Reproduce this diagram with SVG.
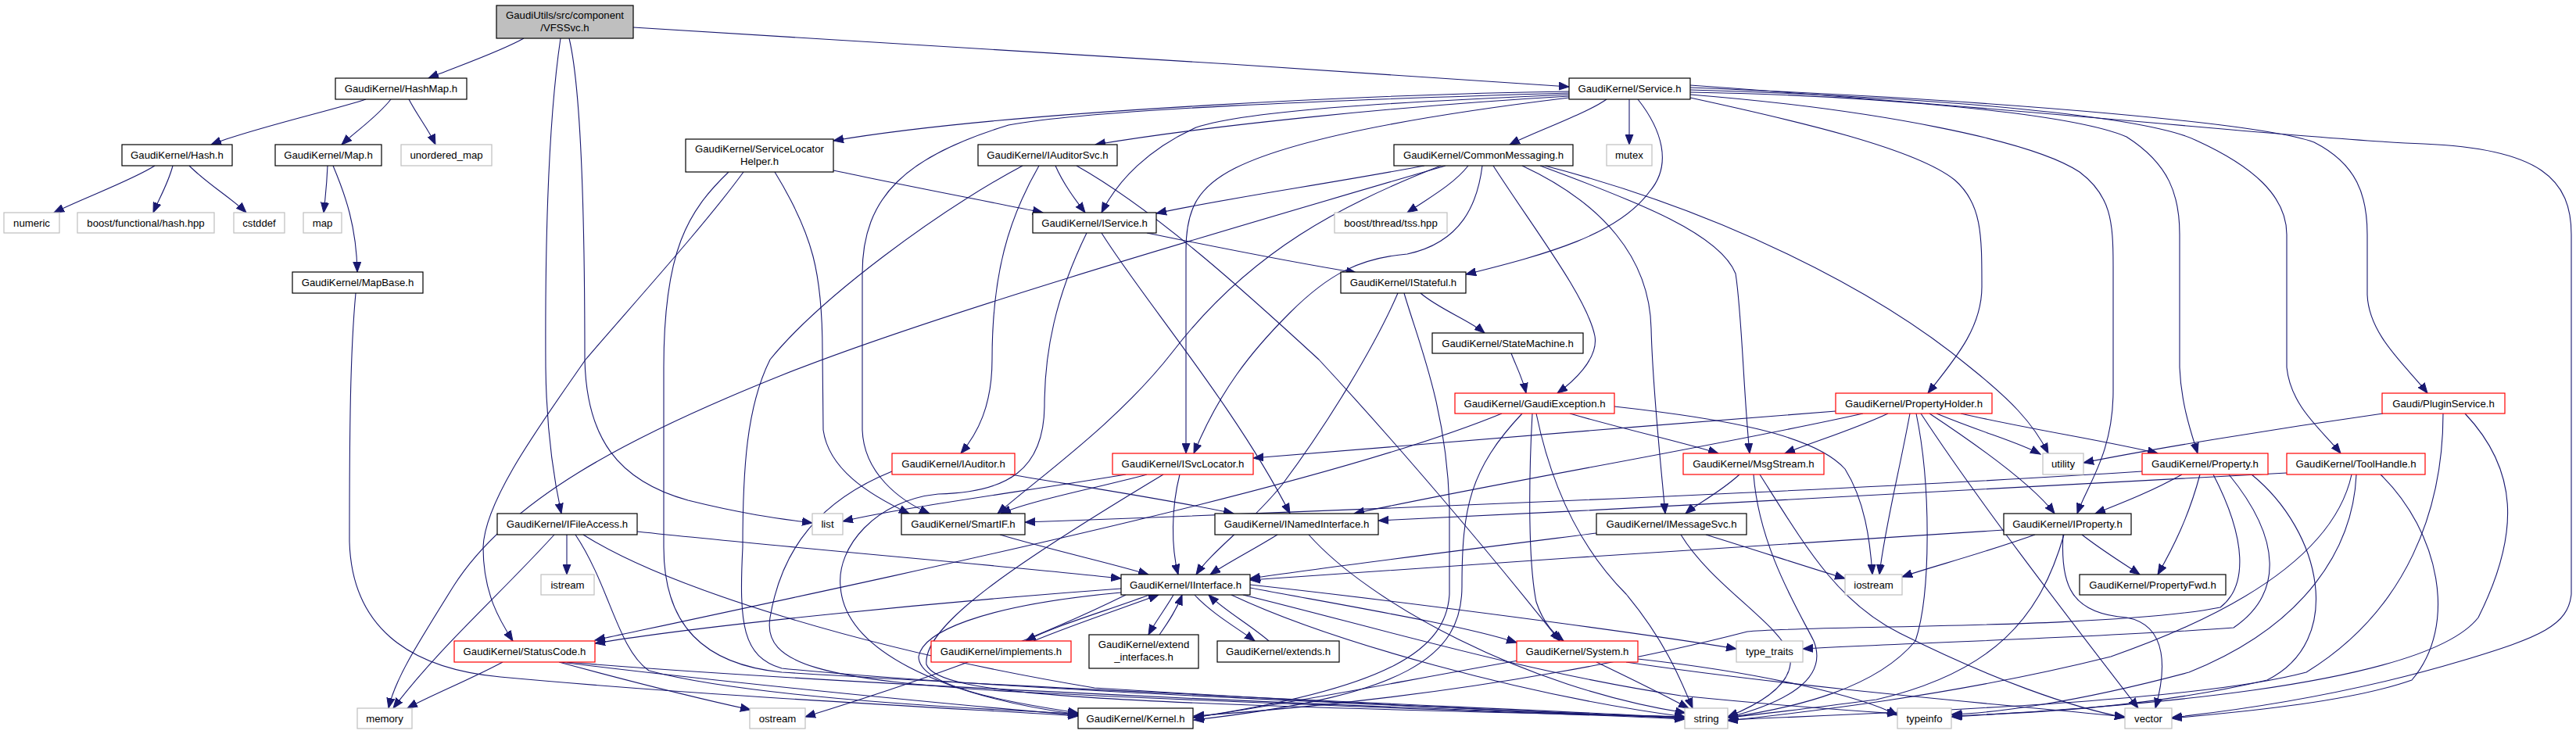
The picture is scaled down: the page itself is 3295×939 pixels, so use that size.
<svg xmlns="http://www.w3.org/2000/svg" width="3295" height="939" viewBox="0 0 3295 939">
<style>
.nd rect{fill:#fff;stroke:#000;stroke-width:1.2}
.rd rect{fill:#fff;stroke:#f00;stroke-width:1.2}
.gr rect{fill:#fff;stroke:#bfbfbf;stroke-width:1.2}
.rt rect{fill:#bfbfbf;stroke:#000;stroke-width:1.2}
text{font-family:"Liberation Sans",Arial,Helvetica,sans-serif;font-size:13.2px;text-anchor:middle;fill:#000}
#edges path{fill:none;stroke:#191970;stroke-width:1.1;marker-end:url(#a)}
</style>
<defs>
<marker id="a" markerUnits="userSpaceOnUse" markerWidth="14" markerHeight="11" refX="13" refY="5" orient="auto" viewBox="0 0 14 10">
<path d="M0,0 L13,5 L0,10 z" fill="#191970" stroke="#191970"/>
</marker>
</defs>
<rect width="3295" height="939" fill="#fff"/>
<g id="edges">
<path d="M670,49 C640,66 585,85 548,100"/>
<path d="M810,35 C1000,45 1600,83 2007,111"/>
<path d="M717,49 C702,150 697,300 698,470 C699,560 710,620 718,657"/>
<path d="M728,49 C745,120 748,300 748,460 C750,560 790,615 880,640 C960,660 1010,665 1039,669"/>
<path d="M468,127 C430,140 320,165 270,185"/>
<path d="M500,127 C482,150 455,168 437,185"/>
<path d="M523,127 C535,150 548,165 557,185"/>
<path d="M198,212 C170,230 110,252 69,272"/>
<path d="M221,212 C215,235 203,255 196,272"/>
<path d="M242,212 C265,235 298,255 315,272"/>
<path d="M419,212 C418,235 416,255 414,272"/>
<path d="M426,212 C442,250 456,290 457,348"/>
<path d="M455,375 C448,450 447,550 447,693 C450,800 520,855 640,866 C900,890 1200,905 1379,916"/>
<path d="M2007,117 C1800,120 1300,140 1066,180"/>
<path d="M2007,119 C1700,128 1400,140 1290,160 C1160,200 1103,250 1103,350 L1103,550 C1105,605 1150,640 1189,657"/>
<path d="M2007,121 C1800,130 1600,140 1530,163 C1470,190 1430,230 1409,272"/>
<path d="M2007,123 C1800,135 1550,160 1401,185"/>
<path d="M2007,125 C1800,150 1650,180 1580,215 C1530,240 1517,270 1517,320 L1517,580"/>
<path d="M2055,127 C2030,145 1960,170 1931,185"/>
<path d="M2084,127 L2084,185"/>
<path d="M2095,127 C2125,165 2140,210 2110,245 C2070,300 1980,325 1875,351"/>
<path d="M2162,125 C2300,155 2450,190 2500,230 C2535,260 2535,300 2535,367 C2535,420 2500,460 2466,503"/>
<path d="M2162,121 C2400,140 2600,180 2660,220 C2700,250 2703,283 2703,340 L2703,500 C2703,580 2670,620 2657,657"/>
<path d="M2162,118 C2400,122 2650,145 2720,175 C2775,210 2788,250 2788,300 L2788,470 C2790,520 2805,560 2811,580"/>
<path d="M2162,115 C2500,125 2750,150 2810,180 C2880,212 2925,250 2925,300 L2925,470 C2930,520 2970,550 2994,580"/>
<path d="M2162,112 C2600,130 2900,160 2960,182 C3015,210 3028,250 3028,300 L3028,377 C3030,430 3080,470 3105,503"/>
<path d="M2162,109 C2600,140 2950,178 3100,184 C3250,190 3289,230 3289,300 L3289,760 C3285,800 3250,815 3150,845 C3000,890 2850,910 2778,918"/>
<path d="M1066,218 C1150,236 1250,255 1334,272"/>
<path d="M951,220 C900,290 800,400 749,460 C690,545 620,640 618,700 C618,760 640,795 656,820"/>
<path d="M991,220 C1040,300 1052,350 1052,450 L1053,550 C1060,600 1110,632 1163,657"/>
<path d="M932,220 C880,270 849,320 849,470 L849,700 C849,800 900,850 1000,860 C1400,885 1900,905 2155,918"/>
<path d="M1329,212 C1290,280 1269,350 1269,460 C1269,520 1250,555 1229,580"/>
<path d="M1350,212 C1360,235 1375,255 1388,272"/>
<path d="M1308,212 C1200,270 1050,380 985,460 C955,520 950,600 950,700 C945,800 950,840 1000,855 C1300,885 1900,906 2155,919"/>
<path d="M1377,212 C1480,270 1600,380 1687,460 C1780,560 1900,700 1995,820"/>
<path d="M1467,298 C1550,315 1650,335 1735,349"/>
<path d="M1409,298 C1460,380 1580,520 1650,657"/>
<path d="M1390,298 C1350,380 1336,450 1336,520 C1335,600 1290,630 1200,632 C1120,640 1070,700 1075,750 C1080,830 1200,890 1379,914"/>
<path d="M1822,212 C1700,235 1560,255 1479,273"/>
<path d="M1849,212 C1600,285 1200,400 1000,480 C800,560 650,640 580,750 C530,830 505,870 497,906"/>
<path d="M1843,212 C1720,260 1600,320 1500,450 C1430,540 1330,610 1276,657"/>
<path d="M1896,212 C1890,260 1870,310 1800,325 C1740,330 1700,350 1650,400 C1600,450 1560,500 1527,580"/>
<path d="M1878,212 C1860,235 1830,252 1800,272"/>
<path d="M1910,212 C1960,290 2030,380 2040,430 C2045,460 2010,490 1992,503"/>
<path d="M1947,212 C2050,260 2110,330 2112,420 C2114,500 2125,600 2130,657"/>
<path d="M1970,212 C2100,260 2200,300 2220,350 C2228,400 2230,500 2238,580"/>
<path d="M1976,212 C2200,270 2400,370 2520,470 C2570,510 2600,540 2620,580"/>
<path d="M1817,375 C1840,395 1880,410 1899,426"/>
<path d="M1788,375 C1760,440 1700,540 1640,620 C1600,670 1550,705 1530,735"/>
<path d="M1796,375 C1815,440 1850,520 1854,647 L1854,760 C1850,830 1780,880 1527,918"/>
<path d="M1933,452 C1940,470 1948,485 1952,503"/>
<path d="M1947,529 C1880,600 1870,650 1870,750 C1870,840 1800,890 1527,921"/>
<path d="M1921,529 C1700,620 1200,725 761,819"/>
<path d="M1960,529 C1955,620 1955,720 1965,770 C1975,800 1990,812 2000,820"/>
<path d="M1965,529 C1990,650 2040,720 2080,760 C2130,820 2150,870 2165,906"/>
<path d="M2008,529 C2080,550 2150,565 2198,580"/>
<path d="M2065,520 C2200,535 2320,555 2360,600 C2385,640 2392,690 2395,735"/>
<path d="M2348,526 C2100,545 1800,570 1603,586"/>
<path d="M2383,529 C2200,570 1900,620 1732,657"/>
<path d="M2415,529 C2370,550 2320,565 2283,580"/>
<path d="M2443,529 C2430,600 2410,680 2404,735"/>
<path d="M2451,529 C2470,620 2470,760 2450,820 C2400,880 2300,905 2210,918"/>
<path d="M2457,529 C2530,640 2630,770 2735,906"/>
<path d="M2468,529 C2530,570 2600,620 2628,657"/>
<path d="M2477,529 C2540,555 2580,565 2610,581"/>
<path d="M2508,529 C2600,550 2700,565 2760,580"/>
<path d="M3048,529 C2900,550 2750,575 2665,592"/>
<path d="M3125,529 C3125,650 3080,780 2950,860 C2800,900 2400,912 2210,921"/>
<path d="M3153,529 C3220,600 3225,680 3170,790 C3100,880 2700,905 2496,917"/>
<path d="M2925,605 C2700,620 2200,645 1763,666"/>
<path d="M2740,603 C2400,625 1800,650 1311,668"/>
<path d="M3008,607 C2990,690 2900,770 2700,840 C2500,890 2300,912 2210,922"/>
<path d="M3014,607 C3010,700 2950,800 2800,860 C2650,900 2550,912 2496,914"/>
<path d="M3045,607 C3120,680 3145,800 3085,870 C3000,900 2850,912 2778,919"/>
<path d="M2791,607 C2750,630 2710,645 2680,657"/>
<path d="M2814,607 C2800,660 2780,700 2760,735"/>
<path d="M2831,607 C2874,690 2875,750 2840,777 C2700,805 2300,800 2235,808 C2150,830 1900,890 1527,916"/>
<path d="M2851,607 C2919,690 2920,760 2857,803 C2700,815 2450,822 2306,830"/>
<path d="M2880,607 C2970,680 3000,820 2900,870 C2750,905 2600,912 2497,916"/>
<path d="M2563,678 C2300,695 1900,720 1599,742"/>
<path d="M2603,684 C2530,710 2470,725 2433,738"/>
<path d="M2663,684 C2690,705 2715,720 2737,735"/>
<path d="M2640,684 C2610,790 2550,860 2400,895 C2300,908 2250,914 2210,918"/>
<path d="M2639,684 C2635,750 2650,785 2720,790 C2775,800 2770,860 2757,906"/>
<path d="M1440,607 C1300,630 1150,650 1078,667"/>
<path d="M1467,607 C1400,625 1320,640 1280,657"/>
<path d="M1509,607 C1498,650 1498,700 1507,735"/>
<path d="M1488,607 C1300,720 1180,800 1185,850 C1200,890 1400,900 2155,917"/>
<path d="M1292,607 C1400,625 1500,640 1578,657"/>
<path d="M1141,603 C1050,640 1000,700 985,790 C975,850 1050,870 1300,885 C1700,905 2000,912 2155,920"/>
<path d="M2225,607 C2200,630 2170,645 2156,657"/>
<path d="M2243,607 C2250,700 2300,780 2320,820 C2340,870 2280,900 2210,918"/>
<path d="M2251,607 C2310,700 2350,770 2430,810 C2550,870 2650,905 2718,918"/>
<path d="M2042,682 C1900,700 1700,725 1599,740"/>
<path d="M2150,684 C2190,750 2280,800 2290,840 C2295,880 2240,905 2210,917"/>
<path d="M2182,684 C2250,705 2310,725 2360,740"/>
<path d="M1634,684 C1600,705 1570,720 1548,735"/>
<path d="M1674,684 C1750,770 1950,880 2156,912"/>
<path d="M1279,684 C1350,705 1420,720 1469,735"/>
<path d="M815,680 C1000,700 1300,725 1434,740"/>
<path d="M709,684 C640,760 560,830 503,906"/>
<path d="M725,684 L725,735"/>
<path d="M736,684 C780,750 790,830 830,858 C950,890 1200,905 1379,913"/>
<path d="M746,684 C850,750 1100,830 1400,880 C1800,905 2000,912 2155,918"/>
<path d="M1434,753 C1200,770 900,800 761,823"/>
<path d="M1434,758 C1250,775 1180,810 1175,840 C1175,880 1300,900 1379,912"/>
<path d="M1470,761 C1420,780 1350,800 1312,820"/>
<path d="M1322,820 C1370,800 1430,780 1482,761"/>
<path d="M1501,761 C1490,780 1478,795 1469,812"/>
<path d="M1483,812 C1495,795 1505,780 1512,761"/>
<path d="M1528,761 C1550,785 1585,805 1605,820"/>
<path d="M1623,820 C1600,800 1565,780 1546,761"/>
<path d="M1599,752 C1750,780 1870,800 1940,822"/>
<path d="M1599,748 C1800,770 2100,810 2221,830"/>
<path d="M1590,761 C1750,800 1950,860 2150,890 C2300,905 2380,910 2427,913"/>
<path d="M1575,761 C1700,820 1950,890 2155,917"/>
<path d="M1440,761 C1300,830 1150,880 1030,917"/>
<path d="M643,847 C600,870 550,890 521,906"/>
<path d="M715,847 C800,870 900,895 960,908"/>
<path d="M717,847 C900,870 1200,900 1379,915"/>
<path d="M725,847 C1000,870 1600,900 2155,918"/>
<path d="M1942,845 C1800,870 1650,900 1527,918"/>
<path d="M2042,847 C2090,870 2130,890 2160,906"/>
<path d="M2095,843 C2250,860 2380,890 2427,915"/>
<path d="M2080,847 C2300,880 2600,905 2718,917"/>
</g>
<g id="n_root" class="rt"><rect x="635" y="7" width="175" height="42"/><text x="722.5" y="24">GaudiUtils/src/component</text><text x="722.5" y="40">/VFSSvc.h</text></g>
<g id="n_hashmap" class="nd"><rect x="429" y="100" width="168" height="27"/><text x="513" y="118">GaudiKernel/HashMap.h</text></g>
<g id="n_service" class="nd"><rect x="2007" y="100" width="155" height="27"/><text x="2084.5" y="118">GaudiKernel/Service.h</text></g>
<g id="n_hash" class="nd"><rect x="156" y="185" width="141" height="27"/><text x="226.5" y="203">GaudiKernel/Hash.h</text></g>
<g id="n_map" class="nd"><rect x="352" y="185" width="136" height="27"/><text x="420" y="203">GaudiKernel/Map.h</text></g>
<g id="n_unordered_map" class="gr"><rect x="513" y="185" width="116" height="27"/><text x="571" y="203">unordered_map</text></g>
<g id="n_slh" class="nd"><rect x="877" y="178" width="189" height="42"/><text x="971.5" y="195">GaudiKernel/ServiceLocator</text><text x="971.5" y="211">Helper.h</text></g>
<g id="n_iauditorsvc" class="nd"><rect x="1251" y="185" width="178" height="27"/><text x="1340" y="203">GaudiKernel/IAuditorSvc.h</text></g>
<g id="n_commonmessaging" class="nd"><rect x="1783" y="185" width="229" height="27"/><text x="1897.5" y="203">GaudiKernel/CommonMessaging.h</text></g>
<g id="n_mutex" class="gr"><rect x="2055" y="185" width="58" height="27"/><text x="2084" y="203">mutex</text></g>
<g id="n_numeric" class="gr"><rect x="5" y="272" width="71" height="26"/><text x="40.5" y="290">numeric</text></g>
<g id="n_boosthash" class="gr"><rect x="99" y="272" width="175" height="26"/><text x="186.5" y="290">boost/functional/hash.hpp</text></g>
<g id="n_cstddef" class="gr"><rect x="299" y="272" width="65" height="26"/><text x="331.5" y="290">cstddef</text></g>
<g id="n_mapstd" class="gr"><rect x="388" y="272" width="49" height="26"/><text x="412.5" y="290">map</text></g>
<g id="n_iservice" class="nd"><rect x="1321" y="272" width="158" height="26"/><text x="1400" y="290">GaudiKernel/IService.h</text></g>
<g id="n_tss" class="gr"><rect x="1707" y="272" width="144" height="26"/><text x="1779" y="290">boost/thread/tss.hpp</text></g>
<g id="n_mapbase" class="nd"><rect x="374" y="348" width="167" height="27"/><text x="457.5" y="366">GaudiKernel/MapBase.h</text></g>
<g id="n_istateful" class="nd"><rect x="1715" y="348" width="160" height="27"/><text x="1795" y="366">GaudiKernel/IStateful.h</text></g>
<g id="n_statemachine" class="nd"><rect x="1832" y="426" width="193" height="26"/><text x="1928.5" y="444">GaudiKernel/StateMachine.h</text></g>
<g id="n_gaudiexception" class="rd"><rect x="1861" y="503" width="204" height="26"/><text x="1963" y="521">GaudiKernel/GaudiException.h</text></g>
<g id="n_propertyholder" class="rd"><rect x="2348" y="503" width="200" height="26"/><text x="2448" y="521">GaudiKernel/PropertyHolder.h</text></g>
<g id="n_pluginservice" class="rd"><rect x="3047" y="503" width="157" height="26"/><text x="3125.5" y="521">Gaudi/PluginService.h</text></g>
<g id="n_iauditor" class="rd"><rect x="1141" y="580" width="157" height="27"/><text x="1219.5" y="598">GaudiKernel/IAuditor.h</text></g>
<g id="n_isvclocator" class="rd"><rect x="1423" y="580" width="180" height="27"/><text x="1513" y="598">GaudiKernel/ISvcLocator.h</text></g>
<g id="n_msgstream" class="rd"><rect x="2153" y="580" width="180" height="27"/><text x="2243" y="598">GaudiKernel/MsgStream.h</text></g>
<g id="n_utility" class="gr"><rect x="2613" y="580" width="52" height="27"/><text x="2639" y="598">utility</text></g>
<g id="n_property" class="rd"><rect x="2740" y="580" width="161" height="27"/><text x="2820.5" y="598">GaudiKernel/Property.h</text></g>
<g id="n_toolhandle" class="rd"><rect x="2925" y="580" width="177" height="27"/><text x="3013.5" y="598">GaudiKernel/ToolHandle.h</text></g>
<g id="n_ifileaccess" class="nd"><rect x="636" y="657" width="179" height="27"/><text x="725.5" y="675">GaudiKernel/IFileAccess.h</text></g>
<g id="n_list" class="gr"><rect x="1039" y="657" width="39" height="27"/><text x="1058.5" y="675">list</text></g>
<g id="n_smartif" class="nd"><rect x="1153" y="657" width="158" height="27"/><text x="1232" y="675">GaudiKernel/SmartIF.h</text></g>
<g id="n_inamedinterface" class="nd"><rect x="1554" y="657" width="209" height="27"/><text x="1658.5" y="675">GaudiKernel/INamedInterface.h</text></g>
<g id="n_imessagesvc" class="nd"><rect x="2042" y="657" width="192" height="27"/><text x="2138" y="675">GaudiKernel/IMessageSvc.h</text></g>
<g id="n_iproperty" class="nd"><rect x="2563" y="657" width="163" height="27"/><text x="2644.5" y="675">GaudiKernel/IProperty.h</text></g>
<g id="n_istream" class="gr"><rect x="692" y="735" width="68" height="26"/><text x="726" y="753">istream</text></g>
<g id="n_iinterface" class="nd"><rect x="1434" y="735" width="165" height="26"/><text x="1516.5" y="753">GaudiKernel/IInterface.h</text></g>
<g id="n_iostream" class="gr"><rect x="2360" y="735" width="73" height="26"/><text x="2396.5" y="753">iostream</text></g>
<g id="n_propertyfwd" class="nd"><rect x="2660" y="735" width="187" height="26"/><text x="2753.5" y="753">GaudiKernel/PropertyFwd.h</text></g>
<g id="n_statuscode" class="rd"><rect x="581" y="820" width="180" height="27"/><text x="671" y="838">GaudiKernel/StatusCode.h</text></g>
<g id="n_implements" class="rd"><rect x="1191" y="820" width="179" height="27"/><text x="1280.5" y="838">GaudiKernel/implements.h</text></g>
<g id="n_extend_interfaces" class="nd"><rect x="1393" y="812" width="140" height="43"/><text x="1463" y="829">GaudiKernel/extend</text><text x="1463" y="845">_interfaces.h</text></g>
<g id="n_extends" class="nd"><rect x="1557" y="820" width="156" height="27"/><text x="1635" y="838">GaudiKernel/extends.h</text></g>
<g id="n_system" class="rd"><rect x="1940" y="820" width="155" height="27"/><text x="2017.5" y="838">GaudiKernel/System.h</text></g>
<g id="n_type_traits" class="gr"><rect x="2221" y="820" width="85" height="27"/><text x="2263.5" y="838">type_traits</text></g>
<g id="n_memory" class="gr"><rect x="457" y="906" width="70" height="26"/><text x="492" y="924">memory</text></g>
<g id="n_ostream" class="gr"><rect x="959" y="906" width="71" height="26"/><text x="994.5" y="924">ostream</text></g>
<g id="n_kernel" class="nd"><rect x="1379" y="906" width="147" height="26"/><text x="1452.5" y="924">GaudiKernel/Kernel.h</text></g>
<g id="n_string" class="gr"><rect x="2155" y="906" width="55" height="26"/><text x="2182.5" y="924">string</text></g>
<g id="n_typeinfo" class="gr"><rect x="2427" y="906" width="69" height="26"/><text x="2461.5" y="924">typeinfo</text></g>
<g id="n_vector" class="gr"><rect x="2718" y="906" width="60" height="26"/><text x="2748" y="924">vector</text></g>
</svg>
